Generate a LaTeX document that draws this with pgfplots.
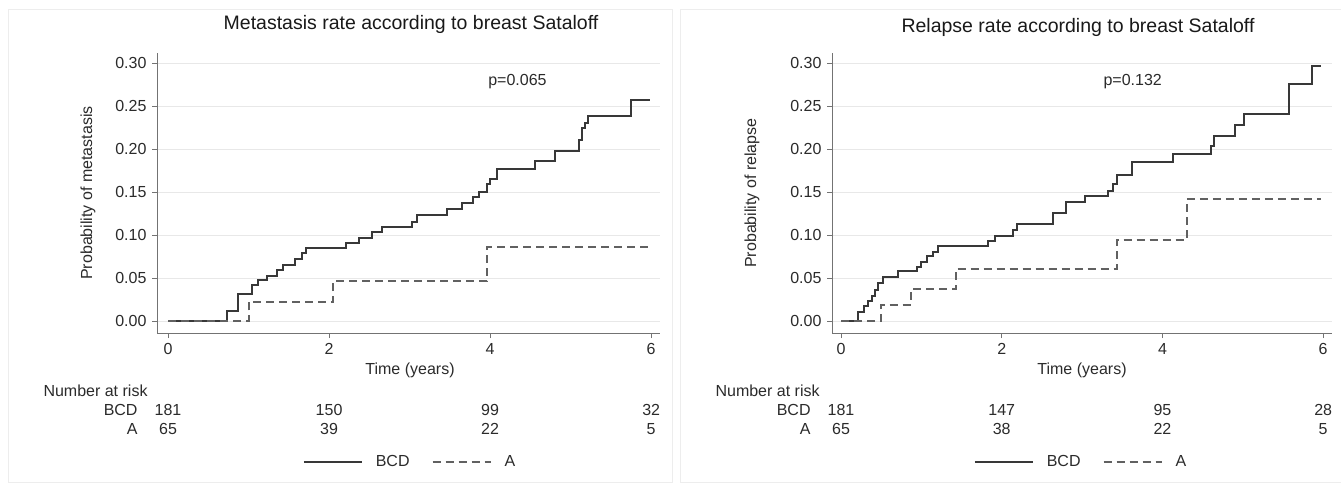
\documentclass[border=0pt]{standalone}
\usepackage{pgfplots}
\pgfplotsset{compat=1.18}
\usepackage{fontspec}
\setmainfont{Liberation Sans}
\newcommand\bodyfont{\fontsize{16}{19}\selectfont}
\newcommand\titlefont{\fontsize{19.5}{23}\selectfont}
\definecolor{txt}{HTML}{2B2B2B}
\pgfplotsset{
  km/.style={
    scale only axis, height=280pt,
    ymin=-0.014, ymax=0.3116,
    axis lines*=left,
    axis line style={black!55, line width=0.9pt},
    tick align=outside, major tick length=5pt,
    major tick style={black!55, line width=0.9pt},
    xtick={0,2,4,6}, ytick={0,0.05,0.1,0.15,0.2,0.25,0.3},
    yticklabel style={/pgf/number format/.cd, fixed, fixed zerofill, precision=2},
    /pgf/number format/assume math mode=true,
    scaled y ticks=false,
    ymajorgrids, grid style={black!9, line width=0.9pt},
    clip=false,
    tick label style={text=txt, font=\bodyfont},
    label style={text=txt, font=\bodyfont},
    legend style={draw=none, fill=none, legend columns=2, anchor=center, font=\bodyfont, text=txt,
      /tikz/every even column/.append style={column sep=20pt}},
    legend image code/.code={\draw[##1] (0pt,0pt) -- (58pt,0pt); \path (69pt,0pt);},
  },
  bcd/.style={const plot, black!78, line width=2pt},
  grpA/.style={const plot, black!62, line width=2pt, dash pattern=on 8pt off 5pt},
}
\begin{document}
\bodyfont
\begin{tikzpicture}
\useasboundingbox (0,0) rectangle (1341pt,491pt);
\fill[white] (0,0) rectangle (1341pt,491pt);
\draw[black!7, line width=1pt] (8pt,481pt) rectangle (672pt,9pt);
\draw[black!7, line width=1pt] (680pt,481pt) rectangle (1345pt,9pt);

% ---------------- Left panel ----------------
\begin{axis}[km, at={(157pt,158pt)}, anchor=south west,
  width=503pt, xmin=-0.137, xmax=6.11,
  title={Metastasis rate according to breast Sataloff},
  title style={at={(axis description cs:0.505,1.082)}, anchor=center, font=\titlefont, text=black!90},
  xlabel={Time (years)},
  xlabel style={at={(axis description cs:0.503,-0.132)}, anchor=center},
  ylabel={Probability of metastasis},
  ylabel style={at={(axis description cs:-0.137,0.5)}, anchor=center},
  legend style={at={(axis description cs:0.503,-0.461)}},
]
\addplot[bcd] coordinates {
(0,0) (0.73,0.012) (0.87,0.031) (1.04,0.042) (1.12,0.048) (1.23,0.052)
(1.35,0.059) (1.43,0.065) (1.58,0.072) (1.66,0.079) (1.71,0.085)
(2.21,0.091) (2.37,0.097) (2.53,0.1035) (2.66,0.109) (3.03,0.115)
(3.09,0.123) (3.47,0.130) (3.65,0.137) (3.79,0.144) (3.86,0.150)
(3.96,0.159) (4.00,0.165) (4.09,0.177) (4.56,0.186) (4.80,0.198)
(5.11,0.210) (5.14,0.224) (5.18,0.230) (5.22,0.2385) (5.75,0.257)
(5.98,0.257)};
\addlegendentry{BCD}
\addplot[grpA] coordinates {
(0,0) (1.00,0.022) (2.05,0.046) (3.96,0.086) (5.98,0.086)};
\addlegendentry{A}
\node[text=txt] at (axis cs:4.34,0.278) {p=0.065};
\node[anchor=west, text=txt] at (axis cs:-1.615,-0.0814) {Number at risk};
\node[anchor=east, text=txt] at (axis cs:-0.31,-0.1035) {BCD};
\node[anchor=east, text=txt] at (axis cs:-0.31,-0.1256) {A};
\node[text=txt] at (axis cs:0,-0.1035) {181};
\node[text=txt] at (axis cs:2,-0.1035) {150};
\node[text=txt] at (axis cs:4,-0.1035) {99};
\node[text=txt] at (axis cs:6,-0.1035) {32};
\node[text=txt] at (axis cs:0,-0.1256) {65};
\node[text=txt] at (axis cs:2,-0.1256) {39};
\node[text=txt] at (axis cs:4,-0.1256) {22};
\node[text=txt] at (axis cs:6,-0.1256) {5};
\end{axis}

% ---------------- Right panel ----------------
\begin{axis}[km, at={(832pt,158pt)}, anchor=south west,
  width=500pt, xmin=-0.112, xmax=6.11,
  title={Relapse rate according to breast Sataloff},
  title style={at={(axis description cs:0.492,1.071)}, anchor=center, font=\titlefont, text=black!90},
  xlabel={Time (years)},
  xlabel style={at={(axis description cs:0.5,-0.132)}, anchor=center},
  ylabel={Probability of relapse},
  ylabel style={at={(axis description cs:-0.16,0.5)}, anchor=center},
  legend style={at={(axis description cs:0.498,-0.461)}},
]
\addplot[bcd] coordinates {
(0,0) (0.21,0.011) (0.29,0.017) (0.34,0.023) (0.38,0.029) (0.42,0.036)
(0.46,0.044) (0.52,0.051) (0.71,0.058) (0.94,0.063) (1.00,0.069)
(1.07,0.075) (1.15,0.080) (1.21,0.087) (1.83,0.093) (1.91,0.099)
(2.14,0.106) (2.19,0.113) (2.64,0.126) (2.80,0.138) (3.03,0.145)
(3.32,0.151) (3.38,0.159) (3.43,0.170) (3.62,0.185) (4.13,0.194)
(4.61,0.203) (4.64,0.215) (4.90,0.228) (5.02,0.241) (5.57,0.276)
(5.86,0.297) (5.97,0.297)};
\addlegendentry{BCD}
\addplot[grpA] coordinates {
(0,0) (0.50,0.019) (0.87,0.037) (1.43,0.061) (3.43,0.0945) (4.30,0.142) (5.97,0.142)};
\addlegendentry{A}
\node[text=txt] at (axis cs:3.63,0.278) {p=0.132};
\node[anchor=west, text=txt] at (axis cs:-1.63,-0.0814) {Number at risk};
\node[anchor=east, text=txt] at (axis cs:-0.31,-0.1035) {BCD};
\node[anchor=east, text=txt] at (axis cs:-0.31,-0.1256) {A};
\node[text=txt] at (axis cs:0,-0.1035) {181};
\node[text=txt] at (axis cs:2,-0.1035) {147};
\node[text=txt] at (axis cs:4,-0.1035) {95};
\node[text=txt] at (axis cs:6,-0.1035) {28};
\node[text=txt] at (axis cs:0,-0.1256) {65};
\node[text=txt] at (axis cs:2,-0.1256) {38};
\node[text=txt] at (axis cs:4,-0.1256) {22};
\node[text=txt] at (axis cs:6,-0.1256) {5};
\end{axis}
\end{tikzpicture}
\end{document}
